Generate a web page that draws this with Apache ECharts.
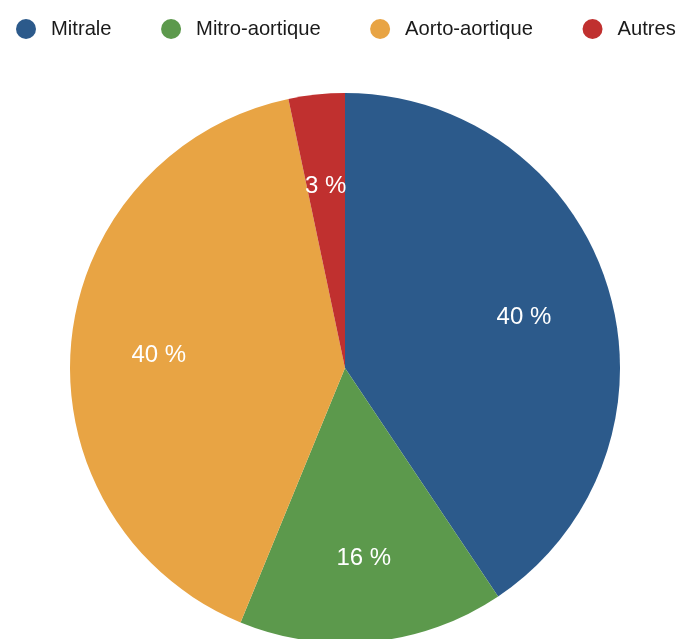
<!DOCTYPE html>
<html>
<head>
<meta charset="utf-8">
<script src="https://cdn.jsdelivr.net/npm/echarts@6/dist/echarts.min.js"></script>
<style>
html,body{margin:0;padding:0;background:#fff;}
#chart{width:677px;height:639px;}
</style>
</head>
<body>
<div id="chart"></div>
<script>
const categories = ['Mitrale', 'Mitro-aortique', 'Aorto-aortique', 'Autres'];
const shares = [40.6, 15.6, 40.5, 3.3];
const labelTexts = ['40 %', '16 %', '40 %', '3 %'];
const colors = ['#2c5a8b', '#5c994c', '#e8a444', '#c0302f'];

const chart = echarts.init(document.getElementById('chart'));
const data = categories.map((c, i) => ({ name: c, value: shares[i], itemStyle: { color: colors[i] } }));
const labelData = categories.map((c, i) => ({ name: c, value: shares[i], label: { formatter: labelTexts[i] } }));

chart.setOption({
  animation: false,
  legend: {
    data: categories,
    left: 11,
    top: 14,
    width: 670,
    icon: 'circle',
    itemWidth: 20,
    itemHeight: 20,
    itemGap: 49.5,
    textStyle: { fontSize: 20.2, color: '#1a1a1a', fontFamily: 'Liberation Sans, Arial, sans-serif', padding: [0, 0, 0, 10] },
    selectedMode: false
  },
  series: [
    {
      type: 'pie',
      center: [345, 368],
      radius: [0, 275],
      startAngle: 90,
      clockwise: true,
      data: data,
      label: { show: false },
      labelLine: { show: false },
      emphasis: { disabled: true },
      silent: true
    },
    {
      type: 'pie',
      center: [345, 368],
      radius: [93, 275],
      startAngle: 90,
      clockwise: true,
      data: labelData,
      itemStyle: { color: 'rgba(0,0,0,0)' },
      label: {
        show: true,
        position: 'inside',
        color: '#fff',
        fontSize: 24,
        offset: [0, 4],
        fontFamily: 'Liberation Sans, Arial, sans-serif'
      },
      labelLine: { show: false },
      emphasis: { disabled: true },
      silent: true
    }
  ]
});
</script>
</body>
</html>
